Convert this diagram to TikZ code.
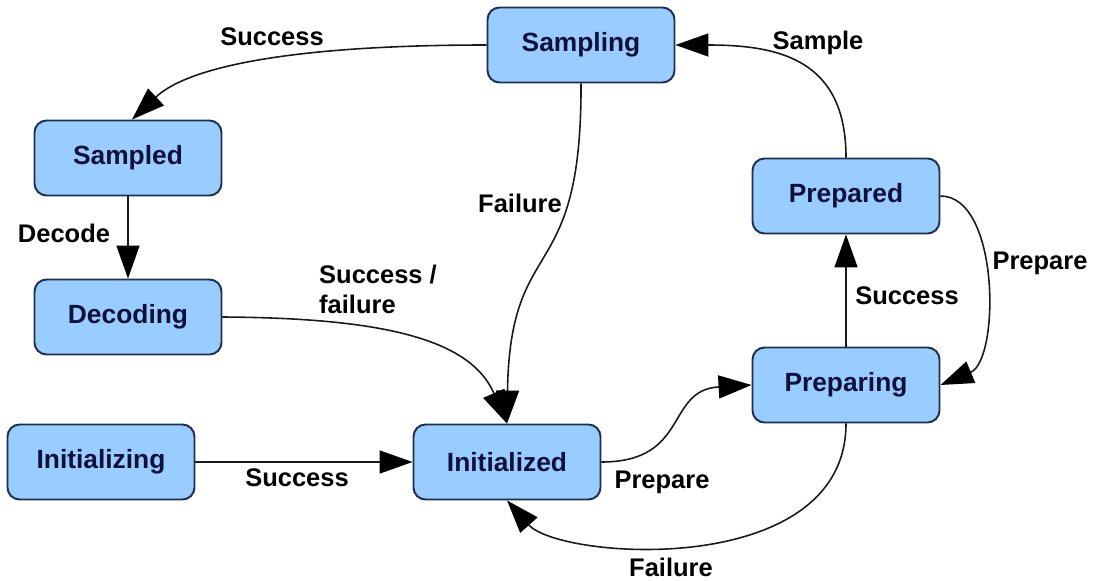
\documentclass[tikz,border=0pt]{standalone}
\usepackage{fontspec}
\setmainfont{Liberation Sans}
\usetikzlibrary{arrows.meta}
\definecolor{statefill}{HTML}{99CCFF}
\definecolor{stateedge}{HTML}{1F2F4F}
\definecolor{statetext}{HTML}{10103A}
\begin{document}
\begin{tikzpicture}[x=0.02cm,y=-0.02cm,
  state/.style={draw=stateedge, line width=1.1pt, fill=statefill, rounded corners=0.24cm,
    minimum width=3.74cm, minimum height=1.5cm, inner sep=0pt,
    font=\fontsize{15}{18}\selectfont\bfseries, text=statetext},
  lbl/.style={font=\fontsize{14.5}{17}\selectfont\bfseries, text=black, inner sep=1pt},
  trans/.style={draw=black!90, line width=0.9pt,
    -{Triangle[length=0.66cm,width=0.46cm,color=black]}}]
\useasboundingbox (0,0) rectangle (1098,581);

% states
\node[state] (sampling)     at (581,45)  {Sampling};
\node[state] (sampled)      at (128,158) {Sampled};
\node[state] (decoding)     at (128,317) {Decoding};
\node[state] (initializing) at (101,462) {Initializing};
\node[state] (initialized)  at (507,462) {Initialized};
\node[state] (preparing)    at (846,385) {Preparing};
\node[state] (prepared)     at (846,196) {Prepared};

% transitions
\draw[trans] (sampling.west) .. controls (300,45) and (190,65) .. ([xshift=0.08cm]sampled.north);
\draw[trans] (sampled.south) -- (decoding.north);
\draw[trans] (decoding.east) .. controls (380,318) and (470,338) .. (initialized.north);
\draw[trans] (sampling.south) .. controls (582,290) and (510,230) .. (initialized.north);
\draw[trans] (initializing.east) -- (initialized.west);
\draw[trans] (initialized.east) .. controls (690,462) and (665,390) .. (preparing.west);
\draw[trans] (preparing.north) -- (prepared.south);
\draw[trans] (prepared.east) .. controls (1000,196) and (1000,360) .. (preparing.east);
\draw[trans] (prepared.north) .. controls (846,60) and (780,45) .. (sampling.east);
\draw[trans] (preparing.south) .. controls (846,580) and (560,560) .. (initialized.south);

% transition labels
\node[lbl] (l1)  at (272,37)  {Success};
\node[lbl] (l2)  at (64,233)  {Decode};
\node[lbl, align=left] (l3) at (378,289) {Success /\\failure};
\node[lbl] (l4)  at (520,203) {Failure};
\node[lbl] (l5)  at (297,478) {Success};
\node[lbl] (l6)  at (662,482) {Prepare};
\node[lbl] (l7)  at (907,296) {Success};
\node[lbl] (l8)  at (1040,263) {Prepare};
\node[lbl] (l9)  at (818,43)  {Sample};
\node[lbl] (l10) at (671,567) {Failure};
\end{tikzpicture}
\end{document}
